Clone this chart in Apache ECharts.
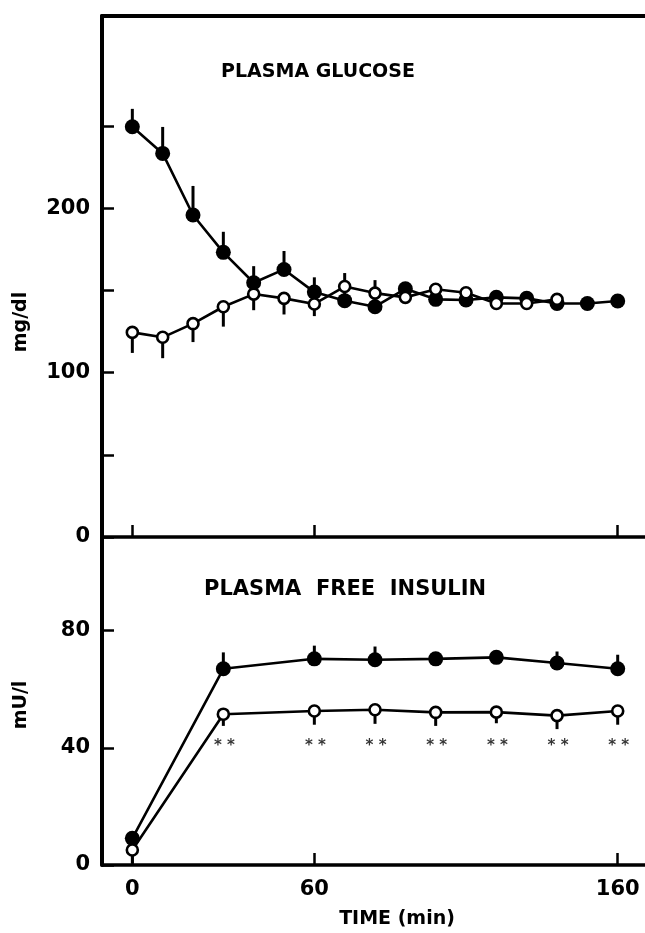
<!DOCTYPE html>
<html>
<head>
<meta charset="utf-8">
<script src="https://cdn.jsdelivr.net/npm/echarts@6/dist/echarts.min.js"></script>
<style>
  html, body { margin: 0; padding: 0; background: #fff; }
  #chart { width: 645px; height: 933px; }
</style>
</head>
<body>
<div id="chart"></div>
<script>
// plasma glucose (mg/dl), every 10 min
const glucoseTime = [0, 10, 20, 30, 40, 50, 60, 70, 80, 90, 100, 110, 120, 130, 140, 150, 160];
const glucoseFilled = [249.6, 233.4, 195.9, 173.2, 154.7, 162.8, 149.0, 143.8, 140.1, 151.0, 144.6, 144.2, 145.8, 145.2, 142.1, 142.1, 143.6];
const glucoseFilledTop = [260.5, 249.5, 213.6, 185.7, 164.8, 174.0, 158.0, 160.6, 156.3, 151.0, 144.6, 144.2, 145.8, 145.2, 142.1, 142.1, 143.6];
const glucoseOpen = [124.5, 121.5, 129.8, 140.1, 147.8, 145.2, 141.8, 152.4, 148.4, 145.8, 150.7, 148.6, 142.1, 142.1, 144.6];
const glucoseOpenLow = [112.0, 108.8, 118.6, 128.0, 138.0, 135.4, 134.4, 152.4, 148.4, 145.8, 150.7, 148.6, 142.1, 142.1, 144.6];

// plasma free insulin (mU/l)
const insulinTime = [0, 30, 60, 80, 100, 120, 140, 160];
const insulinFilled = [9.1, 67.0, 70.4, 70.1, 70.4, 70.9, 69.0, 67.0];
const insulinFilledTop = [9.1, 72.6, 74.9, 74.6, 70.4, 70.9, 72.9, 71.8];
const insulinOpen = [5.1, 51.5, 52.6, 53.0, 52.1, 52.2, 51.0, 52.6];
const insulinOpenLow = [0.5, 47.5, 47.9, 48.2, 47.5, 48.4, 46.4, 47.9];
const sigTimes = [30, 60, 80, 100, 120, 140, 160];
const sigLevel = 42;

const timeTicks = [0, 60, 160];
const glucoseTicks = [0, 50, 100, 150, 200, 250];
const glucoseLabels = [0, 100, 200];
const insulinTicks = [0, 40, 80];

const FONT = 'DejaVu Sans';
const BLACK = '#000';

const pairs = (xs, ys) => ys.map((y, i) => [xs[i], y]);
const bars = (xs, ys, ends) => ys.map((y, i) => [xs[i], y, ends[i]]);

const errorRender = (params, api) => {
    const p0 = api.coord([api.value(0), api.value(1)]);
    const p1 = api.coord([api.value(0), api.value(2)]);
    return {
        type: 'line',
        shape: {x1: p0[0], y1: p0[1], x2: p1[0], y2: p1[1]},
        style: {stroke: BLACK, lineWidth: 3},
    };
};

const errorSeries = (axis, data) => ({
    type: 'custom',
    xAxisIndex: axis.x,
    yAxisIndex: axis.y,
    renderItem: errorRender,
    encode: {x: 0, y: [1, 2]},
    data,
    z: 1,
    silent: true,
});

const lineSeries = (axis, data, open) => ({
    type: 'line',
    xAxisIndex: axis.x,
    yAxisIndex: axis.y,
    data,
    symbol: 'circle',
    symbolSize: open ? 11 : 15,
    showAllSymbol: true,
    lineStyle: {color: BLACK, width: 2.6},
    itemStyle: open
        ? {color: '#fff', borderColor: BLACK, borderWidth: 2.6}
        : {color: BLACK, borderColor: BLACK, borderWidth: 0},
    z: open ? 4 : 3,
    animation: false,
    silent: true,
});

const timeAxis = (gridIndex, showLabels) => ({
    type: 'value',
    gridIndex,
    min: -10,
    max: 169,
    axisLine: {onZero: false, lineStyle: {color: BLACK, width: 3.5}},
    axisTick: {show: true, inside: true, length: 12, customValues: timeTicks, lineStyle: {color: BLACK, width: 2.5}},
    axisLabel: {
        show: showLabels,
        customValues: timeTicks,
        margin: 14,
        fontFamily: FONT,
        fontWeight: 'bold',
        fontSize: 21,
        color: BLACK,
    },
    splitLine: {show: false},
});

const valueAxis = (gridIndex, max, ticks, labels) => ({
    type: 'value',
    gridIndex,
    min: 0,
    max,
    axisLine: {show: true, onZero: false, lineStyle: {color: BLACK, width: 4}},
    axisTick: {show: true, inside: true, length: 12, customValues: ticks, lineStyle: {color: BLACK, width: 2.5}},
    axisLabel: {
        customValues: labels,
        margin: 12,
        fontFamily: FONT,
        fontWeight: 'bold',
        fontSize: 21,
        color: BLACK,
    },
    splitLine: {show: false},
});

const chart = echarts.init(document.getElementById('chart'), null, {renderer: 'canvas'});

const glucoseAxes = {x: 0, y: 0};
const insulinAxes = {x: 2, y: 1};

chart.setOption({
    backgroundColor: '#fff',
    animation: false,
    grid: [
        {left: 102, top: 16, width: 543, height: 521},
        {left: 102, top: 537, width: 543, height: 328},
    ],
    xAxis: [
        timeAxis(0, false),
        {
            type: 'value', gridIndex: 0, position: 'top', min: -10, max: 169,
            axisLine: {show: true, onZero: false, lineStyle: {color: BLACK, width: 4}},
            axisTick: {show: false}, axisLabel: {show: false}, splitLine: {show: false},
        },
        timeAxis(1, true),
    ],
    yAxis: [
        valueAxis(0, 317, glucoseTicks, glucoseLabels),
        valueAxis(1, 112, insulinTicks, insulinTicks),
    ],
    graphic: [
        {type: 'text', x: 318, y: 72, style: {text: 'PLASMA GLUCOSE', font: `bold 19px "${FONT}"`, fill: BLACK, align: 'center', verticalAlign: 'middle'}},
        {type: 'text', x: 204, y: 590, style: {text: 'PLASMA  FREE  INSULIN', font: `bold 21px "${FONT}"`, fill: BLACK, align: 'left', verticalAlign: 'middle'}},
        {type: 'text', x: 21, y: 322, rotation: Math.PI / 2, style: {text: 'mg/dl', font: `bold 19px "${FONT}"`, fill: BLACK, align: 'center', verticalAlign: 'middle'}},
        {type: 'text', x: 21, y: 705, rotation: Math.PI / 2, style: {text: 'mU/l', font: `bold 19px "${FONT}"`, fill: BLACK, align: 'center', verticalAlign: 'middle'}},
        {type: 'text', x: 397, y: 919, style: {text: 'TIME (min)', font: `bold 19px "${FONT}"`, fill: BLACK, align: 'center', verticalAlign: 'middle'}},
    ],
    series: [
        errorSeries(glucoseAxes, bars(glucoseTime, glucoseFilled, glucoseFilledTop)),
        errorSeries(glucoseAxes, bars(glucoseTime, glucoseOpen, glucoseOpenLow)),
        lineSeries(glucoseAxes, pairs(glucoseTime, glucoseFilled), false),
        lineSeries(glucoseAxes, pairs(glucoseTime, glucoseOpen), true),

        errorSeries(insulinAxes, bars(insulinTime, insulinFilled, insulinFilledTop)),
        errorSeries(insulinAxes, bars(insulinTime, insulinOpen, insulinOpenLow)),
        lineSeries(insulinAxes, pairs(insulinTime, insulinFilled), false),
        lineSeries(insulinAxes, pairs(insulinTime, insulinOpen), true),
        {
            type: 'scatter',
            xAxisIndex: insulinAxes.x,
            yAxisIndex: insulinAxes.y,
            data: sigTimes.map(t => [t, sigLevel]),
            symbolSize: 1,
            itemStyle: {color: 'rgba(0,0,0,0)'},
            label: {
                show: true,
                position: 'inside',
                formatter: '* *',
                offset: [1, 4],
                fontFamily: FONT,
                fontWeight: 'bold',
                fontSize: 15,
                color: BLACK,
            },
            silent: true,
        },
    ],
});
</script>
</body>
</html>
